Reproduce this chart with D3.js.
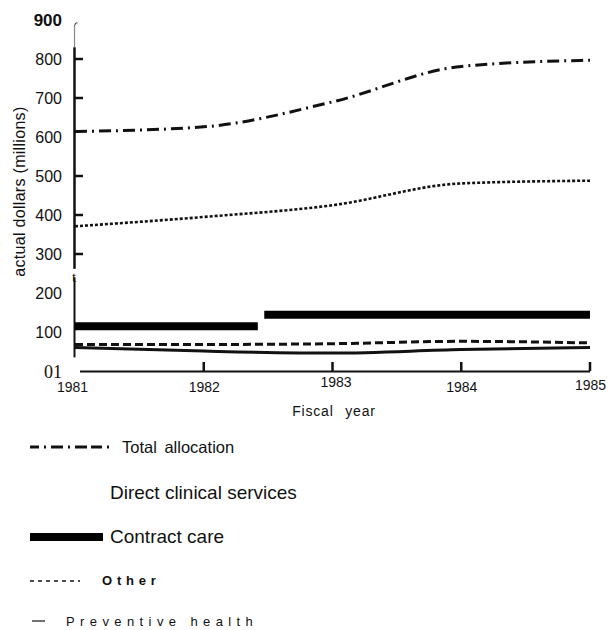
<!DOCTYPE html>
<html>
<head>
<meta charset="utf-8">
<script src="https://cdn.jsdelivr.net/npm/d3@7"></script>
<style>
  html, body { margin: 0; padding: 0; background: #fff; }
  svg { display: block; }
  text { font-family: "Liberation Sans", Arial, sans-serif; fill: #111; }
</style>
</head>
<body>
<svg id="chart" width="608" height="630"></svg>
<script>
// ---- data ----
const years = [1981, 1982, 1983, 1984, 1985];
const totalAllocation = [614, 626, 690, 781, 797];
const directClinical = [371, 395, 425, 481, 488];
const otherValues = [68, 68, 70, 76, 72];
const preventiveHealth = [60, 51, 46, 55, 60];
const contractStart = [1981, 1982.47];
const contractEnd = [1982.42, 1985];
const contractValue = [115, 144];
const yTickValues = [0, 100, 200, 300, 400, 500, 600, 700, 800, 900];
const yTickLabels = ["01", "100", "200", "300", "400", "500", "600", "700", "800", "900"];
const xTickLabels = ["1981", "1982", "1983", "1984", "1985"];
const legendLabels = ["Total  allocation", "Direct  clinical  services", "Contract care", "Other", "Preventive  health"];

const svg = d3.select("#chart");
const x = d3.scaleLinear().domain([1981, 1985]).range([75, 590]);
const y = d3.scaleLinear().domain([0, 900]).range([371, 20]);

// ---- y axis ----
const yAxis = d3.axisLeft(y)
  .tickValues(yTickValues)
  .tickSize(0)
  .tickPadding(12)
  .tickFormat((d, i) => yTickLabels[i]);
const gy = svg.append("g").attr("transform", "translate(74,0)").call(yAxis);
gy.select(".domain").remove();
gy.selectAll(".tick text")
  .style("font-size", "16px")
  .attr("font-family", "Liberation Sans, Arial, sans-serif")
  .attr("dy", "0.35em");
gy.selectAll(".tick").filter(d => d === 900).select("text")
  .style("font-weight", "bold")
  .style("font-family", "Liberation Sans Narrow, Liberation Sans, Arial, sans-serif")
  .style("font-size", "17px");
gy.selectAll(".tick").filter(d => d === 0).select("text")
  .style("font-family", "Liberation Serif, serif")
  .style("font-size", "18px");

// axis line segments (with break)
svg.append("line").attr("x1", 74.5).attr("x2", 74.5).attr("y1", y(885)).attr("y2", y(830))
  .attr("stroke", "#888").attr("stroke-width", 1.2);
svg.append("path").attr("d", `M74.5,${y(885)} q1,-4 3,-3`).attr("fill", "none").attr("stroke", "#333").attr("stroke-width", 1);
svg.append("line").attr("x1", 74.5).attr("x2", 74.5).attr("y1", y(830)).attr("y2", y(262))
  .attr("stroke", "#111").attr("stroke-width", 2.5);
svg.append("text").attr("x", 72).attr("y", y(228)).text("t")
  .style("font-size", "15px").style("font-family", "Liberation Serif, serif");
svg.append("line").attr("x1", 74.5).attr("x2", 74.5).attr("y1", y(240)).attr("y2", y(35))
  .attr("stroke", "#111").attr("stroke-width", 2);

// inner y ticks
[300, 400, 500, 700, 800].forEach(v => {
  svg.append("line").attr("x1", 74).attr("x2", 83).attr("y1", y(v)).attr("y2", y(v))
    .attr("stroke", "#111").attr("stroke-width", 2.5);
});

// y label
svg.append("text")
  .attr("transform", `translate(25,${y(460)}) rotate(-90)`)
  .attr("text-anchor", "middle")
  .style("font-size", "16px")
  .style("letter-spacing", "0.3px")
  .text("actual dollars (millions)");

// ---- x axis ----
const xAxis = d3.axisBottom(x).tickValues(years).tickSize(0).tickPadding(11)
  .tickFormat((d, i) => xTickLabels[i]);
const gx = svg.append("g").attr("transform", `translate(0,${y(0)})`).call(xAxis);
gx.select(".domain").remove();
gx.selectAll(".tick text").style("font-size", "14px");
gx.selectAll(".tick").filter(d => d === 1981).select("text").attr("x", -3);
gx.selectAll(".tick").filter(d => d === 1983).select("text").attr("y", 6).attr("x", 3);
gx.selectAll(".tick").filter(d => d === 1985).select("text").attr("y", 9);
svg.append("line").attr("x1", 80).attr("x2", x(1985)).attr("y1", y(0) + 0.5).attr("y2", y(0) + 0.5)
  .attr("stroke", "#111").attr("stroke-width", 2);
years.slice(1).forEach(yr => {
  svg.append("line").attr("x1", x(yr)).attr("x2", x(yr)).attr("y1", y(0)).attr("y2", y(0) - 9)
    .attr("stroke", "#111").attr("stroke-width", 2.5);
});
svg.append("text").attr("x", 334).attr("y", 416).attr("text-anchor", "middle")
  .style("font-size", "14px").style("letter-spacing", "0.8px").style("word-spacing", "7px")
  .text("Fiscal year");

// ---- series ----
const line = d3.line().x((d, i) => x(years[i])).y(d => y(d)).curve(d3.curveMonotoneX);

svg.append("path").datum(totalAllocation).attr("d", line)
  .attr("fill", "none").attr("stroke", "#111").attr("stroke-width", 3)
  .attr("stroke-dasharray", "12 5 2 5");
svg.append("path").datum(directClinical).attr("d", line)
  .attr("fill", "none").attr("stroke", "#111").attr("stroke-width", 2.6)
  .attr("stroke-dasharray", "3 2");
svg.append("path").datum(otherValues).attr("d", line)
  .attr("fill", "none").attr("stroke", "#111").attr("stroke-width", 3)
  .attr("stroke-dasharray", "8 4");
svg.append("path").datum(preventiveHealth).attr("d", line)
  .attr("fill", "none").attr("stroke", "#111").attr("stroke-width", 3);

contractValue.forEach((v, i) => {
  svg.append("line")
    .attr("x1", x(contractStart[i])).attr("x2", x(contractEnd[i]))
    .attr("y1", y(v)).attr("y2", y(v))
    .attr("stroke", "#000").attr("stroke-width", 8);
});

// ---- legend ----
const lg = svg.append("g");
// Total allocation
lg.append("line").attr("x1", 30).attr("x2", 112).attr("y1", 447).attr("y2", 447)
  .attr("stroke", "#111").attr("stroke-width", 3).attr("stroke-dasharray", "9 5 2 5 12 5 2 5 12 4 2 0");
lg.append("text").attr("x", 122).attr("y", 453).style("font-size", "16.5px")
  .style("word-spacing", "3px").text(legendLabels[0]);
// Direct clinical
lg.append("text").attr("x", 110).attr("y", 499).style("font-size", "19px").text(legendLabels[1]);
// Contract care
lg.append("line").attr("x1", 30).attr("x2", 103).attr("y1", 537).attr("y2", 537)
  .attr("stroke", "#000").attr("stroke-width", 8);
lg.append("text").attr("x", 110).attr("y", 543).style("font-size", "19px").text(legendLabels[2]);
// Other
lg.append("line").attr("x1", 30).attr("x2", 80).attr("y1", 581).attr("y2", 581)
  .attr("stroke", "#111").attr("stroke-width", 1.5).attr("stroke-dasharray", "4 4");
lg.append("text").attr("x", 102).attr("y", 585).style("font-size", "13px")
  .style("font-weight", "bold").style("letter-spacing", "4.8px").text(legendLabels[3]);
// Preventive health
lg.append("line").attr("x1", 32).attr("x2", 45).attr("y1", 621).attr("y2", 621)
  .attr("stroke", "#111").attr("stroke-width", 1.2);
lg.append("text").attr("x", 66).attr("y", 626).style("font-size", "13px")
  .style("letter-spacing", "5.4px").text(legendLabels[4]);
</script>
</body>
</html>
